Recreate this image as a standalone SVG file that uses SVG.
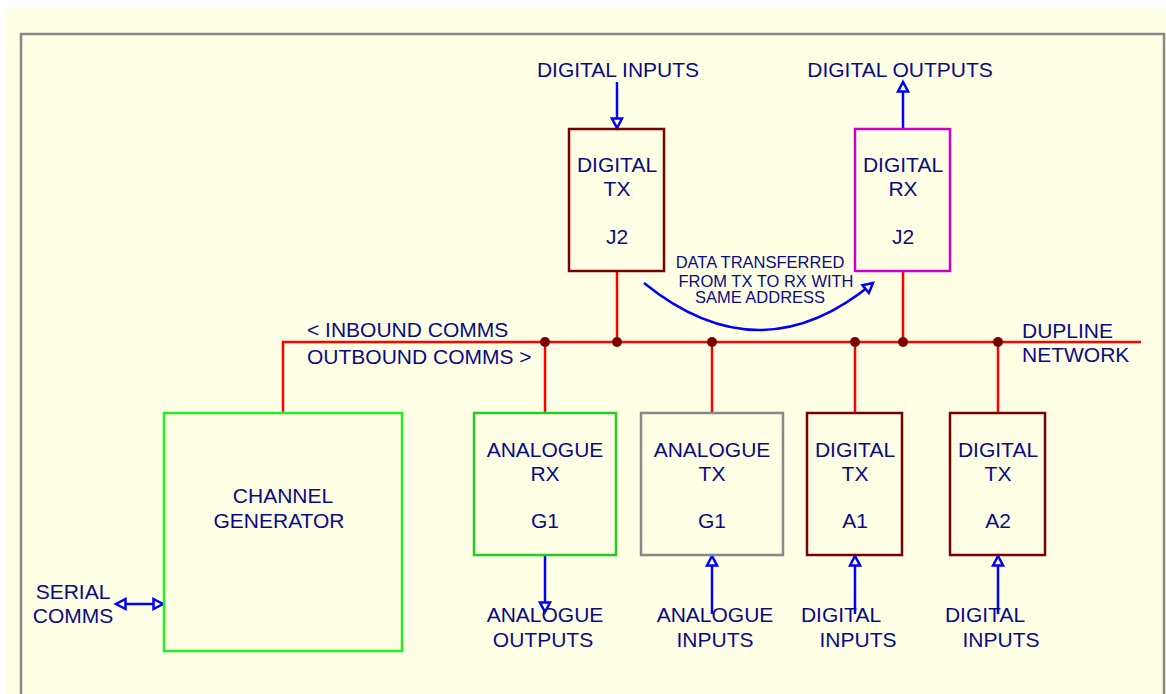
<svg xmlns="http://www.w3.org/2000/svg" width="1166" height="694" viewBox="0 0 1166 694">
<style>
  text { font-family: "Liberation Sans", Arial, sans-serif; font-size: 21px; fill: #0a0a84; }
  .c { text-anchor: middle; }
  .small { font-size: 16.5px; }
  .bus { stroke: #ff0000; stroke-width: 2.5; fill: none; }
  .sig { stroke: #0000ff; stroke-width: 2.5; fill: none; }
  .box { fill: none; stroke-width: 2.5; }
  .dot { fill: #7a0000; }
</style>
<defs>
  <marker id="arr" markerUnits="userSpaceOnUse" markerWidth="14" markerHeight="14" refX="11" refY="6.5" orient="auto-start-reverse" viewBox="0 0 14 13">
    <path d="M1.5,1.5 L11,6.5 L1.5,11.5 Z" fill="#ffffe6" stroke="#0000ff" stroke-width="2.5"/>
  </marker>
</defs>
<rect x="6" y="7" width="1160" height="687" fill="#ffffe6"/>
<rect x="21" y="34" width="1143" height="680" fill="none" stroke="#888888" stroke-width="2.5"/>

<g id="connectors">
  <path class="bus" d="M283,413 V342 H1141"/>
  <path class="bus" d="M545,342 V413 M617,342 V271 M712,342 V413 M855,342 V413 M903,342 V271 M998,342 V413"/>
  <circle class="dot" cx="545" cy="342" r="5"/>
  <circle class="dot" cx="617" cy="342" r="5"/>
  <circle class="dot" cx="712" cy="342" r="5"/>
  <circle class="dot" cx="855" cy="342" r="5"/>
  <circle class="dot" cx="903" cy="342" r="5"/>
  <circle class="dot" cx="998" cy="342" r="5"/>
  <path class="sig" d="M617,82 V128" marker-end="url(#arr)"/>
  <path class="sig" d="M903,129 V82" marker-end="url(#arr)"/>
  <path class="sig" d="M545,555 V612" marker-end="url(#arr)"/>
  <path class="sig" d="M712,614 V556" marker-end="url(#arr)"/>
  <path class="sig" d="M855,614 V556" marker-end="url(#arr)"/>
  <path class="sig" d="M998,614 V556" marker-end="url(#arr)"/>
  <path class="sig" d="M116,604 H163" marker-start="url(#arr)" marker-end="url(#arr)"/>
  <path class="sig" d="M644,283 Q760,377 873,283" marker-end="url(#arr)"/>
</g>

<g id="labels">
  <text class="c" x="618" y="77">DIGITAL INPUTS</text>
  <text class="c" x="900" y="77">DIGITAL OUTPUTS</text>
  <text class="small c" x="760" y="268">DATA TRANSFERRED</text>
  <text class="small c" x="766" y="287">FROM TX TO RX WITH</text>
  <text class="small c" x="760" y="303">SAME ADDRESS</text>
  <text x="307" y="337">&lt; INBOUND COMMS</text>
  <text x="307" y="364">OUTBOUND COMMS &gt;</text>
  <text x="1022" y="338">DUPLINE</text>
  <text x="1022" y="362">NETWORK</text>
  <text class="c" x="73" y="599">SERIAL</text>
  <text class="c" x="73" y="623">COMMS</text>
  <text class="c" x="545" y="622">ANALOGUE</text>
  <text class="c" x="543" y="647">OUTPUTS</text>
  <text class="c" x="715" y="622">ANALOGUE</text>
  <text class="c" x="715" y="647">INPUTS</text>
  <text class="c" x="841" y="622">DIGITAL</text>
  <text class="c" x="858" y="647">INPUTS</text>
  <text class="c" x="985" y="622">DIGITAL</text>
  <text class="c" x="1001" y="647">INPUTS</text>
</g>

<g id="digital-tx-j2">
  <rect class="box" x="569" y="129" width="95" height="142" stroke="#7a0000"/>
  <text class="c" x="617" y="172">DIGITAL</text>
  <text class="c" x="617" y="196">TX</text>
  <text class="c" x="617" y="244">J2</text>
</g>
<g id="digital-rx-j2">
  <rect class="box" x="855" y="129" width="95" height="142" stroke="#cc00cc"/>
  <text class="c" x="903" y="172">DIGITAL</text>
  <text class="c" x="903" y="196">RX</text>
  <text class="c" x="903" y="244">J2</text>
</g>
<g id="channel-generator">
  <rect class="box" x="164" y="413" width="238" height="238" stroke="#22ee22"/>
  <text class="c" x="283" y="503">CHANNEL</text>
  <text class="c" x="279" y="528">GENERATOR</text>
</g>
<g id="analogue-rx-g1">
  <rect class="box" x="474" y="413" width="142" height="142" stroke="#22cc22"/>
  <text class="c" x="545" y="457">ANALOGUE</text>
  <text class="c" x="545" y="481">RX</text>
  <text class="c" x="545" y="528">G1</text>
</g>
<g id="analogue-tx-g1">
  <rect class="box" x="641" y="413" width="142" height="142" stroke="#888888"/>
  <text class="c" x="712" y="457">ANALOGUE</text>
  <text class="c" x="712" y="481">TX</text>
  <text class="c" x="712" y="528">G1</text>
</g>
<g id="digital-tx-a1">
  <rect class="box" x="807" y="413" width="95" height="142" stroke="#7a0000"/>
  <text class="c" x="855" y="457">DIGITAL</text>
  <text class="c" x="855" y="481">TX</text>
  <text class="c" x="855" y="528">A1</text>
</g>
<g id="digital-tx-a2">
  <rect class="box" x="950" y="413" width="95" height="142" stroke="#7a0000"/>
  <text class="c" x="998" y="457">DIGITAL</text>
  <text class="c" x="998" y="481">TX</text>
  <text class="c" x="998" y="528">A2</text>
</g>
</svg>
